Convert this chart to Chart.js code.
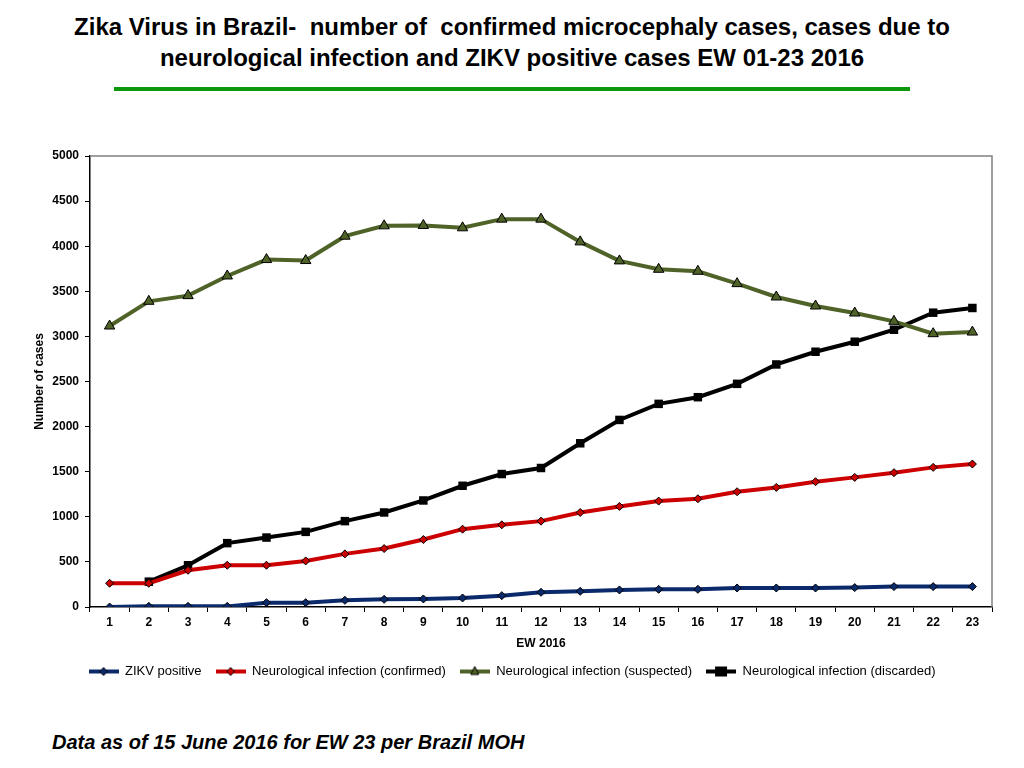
<!DOCTYPE html>
<html>
<head>
<meta charset="utf-8">
<script src="https://cdn.jsdelivr.net/npm/chart.js@4/dist/chart.umd.min.js"></script>
<style>
  body { margin: 0; width: 1024px; height: 768px; background: #fff; position: relative; overflow: hidden; }
  #title { position: absolute; left: 0; top: 11px; width: 1024px; text-align: center;
           font: bold 24px "Liberation Sans", Arial, sans-serif; line-height: 31px; color: #000; white-space: pre; }
  #rule { position: absolute; left: 114px; top: 87px; width: 796px; height: 4px; background: #0b990b; }
  #wrap { position: absolute; left: 0; top: 130px; width: 1024px; height: 558px; }
  #foot { position: absolute; left: 52px; top: 731px; font: italic bold 20px "Liberation Sans", Arial, sans-serif; color: #000; }
</style>
</head>
<body>
<div id="title">Zika Virus in Brazil-  number of  confirmed microcephaly cases, cases due to
neurological infection and ZIKV positive cases EW 01-23 2016</div>
<div id="rule"></div>
<div id="wrap"><canvas id="myChart"></canvas></div>
<div id="foot">Data as of 15 June 2016 for EW 23 per Brazil MOH</div>
<script>
const ctx = document.getElementById('myChart').getContext('2d');

// epidemiological weeks
var weeks = ['1','2','3','4','5','6','7','8','9','10','11','12','13','14','15','16','17','18','19','20','21','22','23'];

// values
var zikvPositive = [0, 7, 7, 7, 48, 48, 74, 85, 89, 100, 126, 163, 174, 189, 196, 196, 211, 211, 211, 215, 226, 226, 226];
var neuroConfirmed = [263, 263, 407, 463, 463, 511, 589, 648, 748, 863, 911, 952, 1048, 1115, 1174, 1200, 1278, 1326, 1389, 1437, 1489, 1548, 1585];
var neuroSuspected = [3115, 3389, 3452, 3670, 3852, 3841, 4111, 4226, 4230, 4204, 4300, 4300, 4048, 3837, 3744, 3722, 3585, 3437, 3337, 3259, 3167, 3030, 3048];
var neuroDiscarded = [null, 281, 463, 708, 770, 833, 952, 1048, 1181, 1344, 1474, 1541, 1815, 2074, 2252, 2326, 2474, 2689, 2830, 2941, 3074, 3263, 3315];

var seriesNames = ['ZIKV positive', 'Neurological infection (confirmed)', 'Neurological infection (suspected)', 'Neurological infection (discarded)'];

var fontFam = '"Liberation Sans", Arial, sans-serif';

// little line+marker pictures for the legend
function legendIcon(color, marker, fill) {
    var c = document.createElement('canvas');
    c.width = 30; c.height = 14;
    var g = c.getContext('2d');
    g.strokeStyle = color; g.lineWidth = 4;
    g.beginPath(); g.moveTo(0, 7); g.lineTo(30, 7); g.stroke();
    g.fillStyle = fill; g.strokeStyle = '#000'; g.lineWidth = 1;
    g.beginPath();
    if (marker == 'diamond') {
        g.moveTo(15, 3); g.lineTo(19, 7); g.lineTo(15, 11); g.lineTo(11, 7); g.closePath();
        g.fill(); g.stroke();
    } else if (marker == 'triangle') {
        g.moveTo(15, 2); g.lineTo(19, 10); g.lineTo(11, 10); g.closePath();
        g.fill(); g.stroke();
    } else {
        g.rect(9, 2, 12, 10); g.fill();
    }
    return c;
}

var icons = [
    legendIcon('#0b2a6b', 'diamond', '#0b2a6b'),
    legendIcon('#cc0000', 'diamond', '#cc0000'),
    legendIcon('#4f6228', 'triangle', '#4f6228'),
    legendIcon('#000000', 'square', '#000000')
];

var frame = {
    id: 'frame',
    afterDatasetsDraw(chart) {
        var a = chart.chartArea, g = chart.ctx;
        g.save();
        g.strokeStyle = '#808080'; g.lineWidth = 1.5;
        g.beginPath();
        g.moveTo(a.left, a.top); g.lineTo(a.right, a.top); g.lineTo(a.right, a.bottom);
        g.stroke();
        g.restore();
    }
};

var myChart = new Chart(ctx, {
    type: 'line',
    data: {
        labels: weeks,
        datasets: [
            {
                label: seriesNames[0], data: zikvPositive,
                borderColor: '#0b2a6b', backgroundColor: '#0b2a6b', borderWidth: 4,
                pointStyle: 'rectRot', pointRadius: 4, pointBorderColor: '#000', pointBorderWidth: 1
            },
            {
                label: seriesNames[1], data: neuroConfirmed,
                borderColor: '#cc0000', backgroundColor: '#cc0000', borderWidth: 4,
                pointStyle: 'rectRot', pointRadius: 4, pointBorderColor: '#000', pointBorderWidth: 1
            },
            {
                label: seriesNames[2], data: neuroSuspected,
                borderColor: '#4f6228', backgroundColor: '#4f6228', borderWidth: 4,
                pointStyle: 'triangle', pointRadius: 6, pointBorderColor: '#000', pointBorderWidth: 1
            },
            {
                label: seriesNames[3], data: neuroDiscarded,
                borderColor: '#000', backgroundColor: '#000', borderWidth: 4,
                pointStyle: 'rect', pointRadius: 6, pointBorderColor: '#000', pointBorderWidth: 0
            }
        ]
    },
    options: {
        responsive: true,
        maintainAspectRatio: false,
        animation: false,
        layout: { padding: { left: 32, right: 32, top: 26, bottom: 0 } },
        plugins: {
            tooltip: { enabled: false },
            legend: {
                position: 'bottom',
                labels: {
                    usePointStyle: true,
                    pointStyleWidth: 30,
                    padding: 14,
                    color: '#000',
                    font: { family: fontFam, size: 13 },
                    generateLabels(chart) {
                        return chart.data.datasets.map(function (ds, i) {
                            return { text: ds.label, pointStyle: icons[i], datasetIndex: i, fontColor: '#000', lineWidth: 0, strokeStyle: 'transparent', fillStyle: 'transparent' };
                        });
                    }
                }
            }
        },
        scales: {
            x: {
                offset: true,
                grid: { display: true, offset: true, drawOnChartArea: false, drawTicks: true, tickLength: 5, color: '#000' },
                border: { color: '#000', width: 1.5 },
                ticks: { color: '#000', font: { family: fontFam, size: 12, weight: 'bold' }, padding: 3, maxRotation: 0, autoSkip: false },
                title: { display: true, text: 'EW 2016', color: '#000', font: { family: fontFam, size: 12, weight: 'bold' }, padding: { top: 6, bottom: 0 } },
                afterFit(scale) { scale.height = 44; }
            },
            y: {
                min: 0, max: 5000,
                grid: { display: true, drawOnChartArea: false, drawTicks: true, tickLength: 5, color: '#000' },
                border: { color: '#000', width: 1.5 },
                ticks: { stepSize: 500, color: '#000', font: { family: fontFam, size: 12, weight: 'bold' }, padding: 6,
                         callback: function (v) { return String(v); } },
                title: { display: true, text: 'Number of cases', color: '#000', font: { family: fontFam, size: 12, weight: 'bold' }, padding: 0 },
                afterFit(scale) { scale.width = 58; }
            }
        }
    },
    plugins: [frame]
});
</script>
</body>
</html>
